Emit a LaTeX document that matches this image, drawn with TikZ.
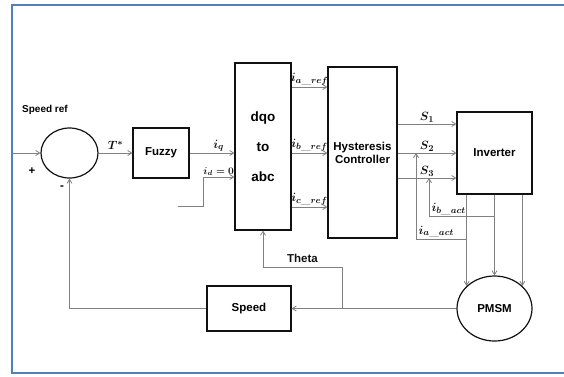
\documentclass[tikz,border=0pt]{standalone}
\usepackage{fontspec}
\setsansfont{Liberation Sans}
\usetikzlibrary{arrows.meta,calc,shapes.geometric}
\definecolor{ink}{HTML}{111111}
\definecolor{wire}{HTML}{808080}
\definecolor{framec}{HTML}{4F81BD}

\begin{document}
\begin{tikzpicture}[x=1pt,y=-1pt,font=\sffamily\bfseries\fontsize{11.5}{13}\selectfont,
    blk/.style={draw=ink,line width=1.2pt,inner sep=2pt},
    sig/.style={wire,line width=0.8pt,-{Straight Barb[length=4pt,width=5pt]}},
    lbl/.style={text=ink,font=\fontsize{13}{15}\selectfont\boldmath,inner sep=1pt}]
  \useasboundingbox (0,0) rectangle (564,376);

  % page frame, right side cut off
  \draw[framec,line width=2.8pt] (564,5) -- (12,5) -- (12,373) -- (564,373);

  % blocks
  \node[blk,ellipse,minimum width=57pt,minimum height=50pt] (sum) at (69.5,153) {};
  \node[blk,minimum width=56pt,minimum height=50pt] (fuzzy) at (161,153) {Fuzzy};
  \node[blk,minimum width=56pt,minimum height=167pt,align=center,
        font=\sffamily\bfseries\fontsize{13.5}{15}\selectfont] (dqo) at (263,146.5)
       {dqo\\[15pt]to\\[15pt]abc};
  \node[blk,minimum width=69pt,minimum height=171pt,align=center] (hyst) at (362.5,152.5)
       {Hysteresis\\Controller};
  \node[blk,minimum width=75pt,minimum height=82pt] (inv) at (494.5,153) {Inverter};
  \node[blk,ellipse,minimum width=75pt,minimum height=65pt] (pmsm) at (494.5,308.5) {PMSM};
  \node[blk,minimum width=84pt,minimum height=45pt] (speed) at (249,308.5) {Speed};

  % summing point labels
  \node[font=\sffamily\bfseries\fontsize{10}{12}\selectfont] (spref) at (45,110) {Speed ref};
  \node (plus) at (32,171) {+};
  \node (minus) at (62,188) {-};

  % free ends and branch points
  \coordinate (in) at (13,153);
  \coordinate (idin) at (178,206);
  \coordinate (idk) at (203,177);
  \coordinate (ibj) at ($(inv.south)+(0,22)$);
  \coordinate (ibk) at (429,178);
  \coordinate (iaj) at (pmsm.141 |- 0,239);
  \coordinate (iak) at (416,153);
  \coordinate (thj) at (342,308.5);

  % forward path
  \draw[sig] (in) -- (sum.west);
  \draw[sig] (sum.east) -- (fuzzy.west) node[lbl,midway,above=2pt] {$T^{*}$};
  \draw[sig] (fuzzy.east) -- (fuzzy.east -| dqo.west) node[lbl,pos=0.65,above] {$i_q$};
  \draw[sig] (idin) -| (idk) -- (idk -| dqo.west)
       node[lbl,midway,above,font=\fontsize{10}{12}\selectfont\boldmath] {$i_d = 0$};
  \foreach \y/\p in {87/a,153/b,207/c}{
    \draw[sig] (dqo.east |- 0,\y) -- (hyst.west |- 0,\y) node[lbl,midway,above] {$i_{\p\_ref}$};}
  \foreach \y/\n in {124/1,153/2,178/3}{
    \draw[sig] (hyst.east |- 0,\y) -- (inv.west |- 0,\y) node[lbl,midway,above] {$S_{\n}$};}

  % inverter to motor
  \draw[sig] (inv.south -| pmsm.141) -- (pmsm.141);
  \draw[sig] (inv.south) -- (pmsm.north);
  \draw[sig] (inv.south -| pmsm.39) -- (pmsm.39);

  % measured currents
  \draw[sig] (ibj) -| (ibk) node[lbl,pos=0.35,above] {$i_{b\_act}$};
  \draw[sig] (iaj) -| (iak) node[lbl,pos=0.3,above] {$i_{a\_act}$};

  % speed and angle feedback
  \draw[sig] (pmsm.west) -- (speed.east);
  \draw[sig] (thj) |- ($(dqo.south)+(0,37)$) node[text=ink,pos=0.75,above=1pt] {Theta} -- (dqo.south);
  \draw[sig] (speed.west) -| (sum.south);
\end{tikzpicture}
\end{document}
